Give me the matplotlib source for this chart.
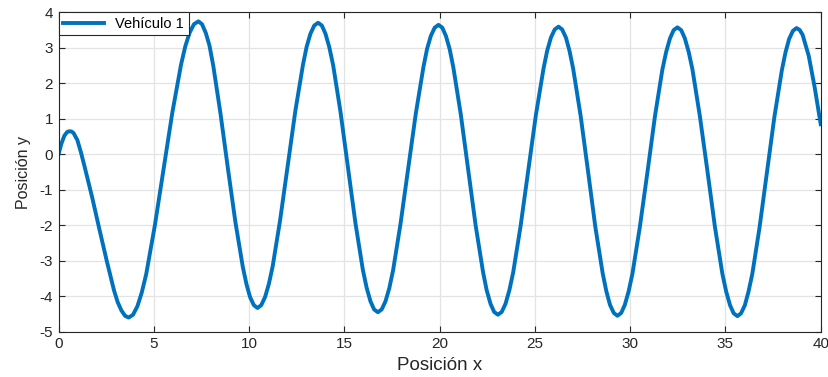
import numpy as np
import matplotlib.pyplot as plt

plt.rcParams['font.family'] = ['Liberation Sans', 'DejaVu Sans']
plt.rcParams['axes.unicode_minus'] = False

# trajectory of vehicle 1
pos_x = [0.00, 0.15, 0.30, 0.45, 0.52, 0.60, 0.68,
         0.79, 0.99, 1.18, 1.37, 1.76, 2.14, 2.53, 2.91, 3.10, 3.30, 3.49, 3.68,
         3.91, 4.14, 4.37, 4.60, 5.05, 5.51, 5.97, 6.43, 6.65, 6.88, 7.11, 7.34,
         7.53, 7.73, 7.92, 8.12, 8.50, 8.89, 9.28, 9.67, 9.86, 10.05, 10.25, 10.44,
         10.64, 10.84, 11.04, 11.24, 11.63, 12.03, 12.43, 12.83, 13.02, 13.22, 13.42, 13.62,
         13.82, 14.01, 14.21, 14.41, 14.80, 15.19, 15.58, 15.97, 16.17, 16.37, 16.56, 16.76,
         16.96, 17.16, 17.36, 17.56, 17.95, 18.35, 18.75, 19.15, 19.34, 19.54, 19.74, 19.94,
         20.14, 20.33, 20.53, 20.72, 21.11, 21.50, 21.89, 22.28, 22.47, 22.67, 22.86, 23.06,
         23.26, 23.46, 23.66, 23.86, 24.25, 24.65, 25.05, 25.45, 25.64, 25.84, 26.04, 26.24,
         26.43, 26.63, 26.82, 27.01, 27.40, 27.79, 28.17, 28.56, 28.75, 28.94, 29.14, 29.33,
         29.53, 29.72, 29.92, 30.12, 30.51, 30.91, 31.30, 31.69, 31.89, 32.09, 32.28, 32.48,
         32.68, 32.87, 33.07, 33.27, 33.66, 34.06, 34.45, 34.84, 35.04, 35.24, 35.43, 35.63,
         35.82, 36.02, 36.21, 36.41, 36.79, 37.18, 37.57, 37.96, 38.15, 38.34, 38.54, 38.73,
         38.89, 39.05, 39.37, 39.68, 40.00]
pos_y = [0.00, 0.30, 0.52, 0.63, 0.645, 0.65, 0.645,
         0.60, 0.40, 0.05, -0.35, -1.20, -2.10, -3.00, -3.83, -4.16, -4.40, -4.55, -4.60,
         -4.52, -4.28, -3.89, -3.38, -2.02, -0.43, 1.17, 2.53, 3.04, 3.43, 3.67, 3.75,
         3.67, 3.42, 3.07, 2.50, 1.15, -0.40, -1.90, -3.17, -3.65, -4.02, -4.25, -4.33,
         -4.25, -4.02, -3.65, -3.15, -1.85, -0.31, 1.23, 2.53, 3.03, 3.40, 3.63, 3.71,
         3.63, 3.40, 3.02, 2.52, 1.19, -0.37, -1.93, -3.25, -3.76, -4.14, -4.37, -4.45,
         -4.37, -4.14, -3.77, -3.26, -1.95, -0.40, 1.15, 2.46, 2.97, 3.34, 3.57, 3.65,
         3.57, 3.34, 2.96, 2.45, 1.13, -0.44, -2.00, -3.32, -3.83, -4.21, -4.44, -4.52,
         -4.44, -4.21, -3.83, -3.33, -2.02, -0.46, 1.10, 2.41, 2.91, 3.29, 3.52, 3.60,
         3.52, 3.29, 2.91, 2.41, 1.09, -0.48, -2.04, -3.36, -3.86, -4.24, -4.47, -4.55,
         -4.47, -4.24, -3.86, -3.36, -2.04, -0.49, 1.07, 2.39, 2.89, 3.27, 3.50, 3.58,
         3.50, 3.27, 2.89, 2.39, 1.07, -0.49, -2.05, -3.37, -3.87, -4.25, -4.48, -4.56,
         -4.48, -4.25, -3.87, -3.37, -2.06, -0.50, 1.06, 2.37, 2.87, 3.25, 3.48, 3.56,
         3.51, 3.37, 2.78, 1.90, 0.85]

x_ticks = [0, 5, 10, 15, 20, 25, 30, 35, 40]
y_ticks = [-5, -4, -3, -2, -1, 0, 1, 2, 3, 4]

axis_col = '#262626'

fig = plt.figure(figsize=(8.29, 3.77), dpi=100)
ax = fig.add_axes([0.0706, 0.120, 0.9194, 0.847])

ax.plot(pos_x, pos_y, color='#0072BD', lw=2.8, label='Vehículo 1',
        solid_joinstyle='round')

ax.set_xlim(0, 40)
ax.set_ylim(-5, 4)
ax.set_xticks(x_ticks)
ax.set_yticks(y_ticks)
ax.grid(True, color='#e3e3e3', lw=0.9)
ax.set_axisbelow(True)

ax.tick_params(direction='in', top=True, right=True, length=4, width=0.8,
               colors=axis_col, labelsize=11, pad=4)
for sp in ax.spines.values():
    sp.set_color(axis_col)
    sp.set_linewidth(0.8)

ax.set_xlabel('Posición x', fontsize=13.5, color=axis_col, labelpad=4)
ax.set_ylabel('Posición y', fontsize=11.5, color=axis_col, labelpad=6)

leg = ax.legend(loc='upper left', bbox_to_anchor=(0, 1), borderaxespad=0,
                fancybox=False, framealpha=1, edgecolor=axis_col,
                fontsize=10.5, handlelength=2.8, borderpad=0.3)
leg.get_frame().set_linewidth(0.8)

fig.savefig('out.png', dpi=100)
